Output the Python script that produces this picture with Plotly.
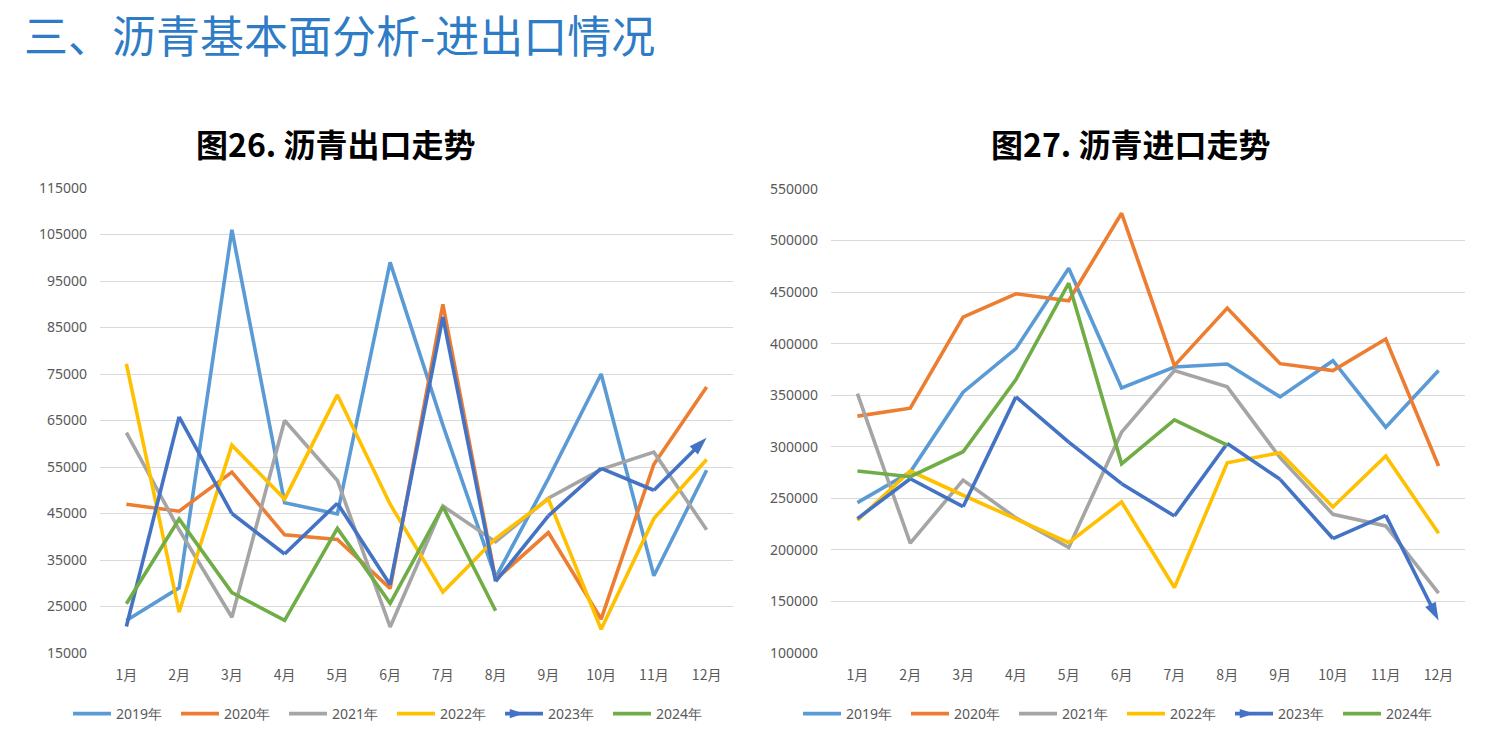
import plotly.graph_objects as go

months = ["1月", "2月", "3月", "4月", "5月", "6月", "7月", "8月", "9月", "10月", "11月", "12月"]
years = ["2019年", "2020年", "2021年", "2022年", "2023年", "2024年"]
colors = ["#5B9BD5", "#ED7D31", "#A5A5A5", "#FFC000", "#4472C4", "#70AD47"]

# 图26 沥青出口 (吨)
export_2019 = [22000, 29000, 106000, 47300, 44900, 99000, 64000, 31200, 52500, 75000, 31600, 54300]
export_2020 = [47000, 45500, 53900, 40400, 39400, 28900, 90000, 30800, 40900, 22300, 55600, 72200]
export_2021 = [62400, 41500, 22700, 65000, 52100, 20600, 46600, 38900, 48300, 54500, 58200, 41500]
export_2022 = [77200, 23800, 59700, 48100, 70500, 47000, 28100, 39600, 48100, 20100, 43900, 56600]
export_2023 = [20700, 65800, 45000, 36300, 47200, 29700, 87300, 30400, 44500, 54700, 50000, 61300]
export_2024 = [25600, 43800, 28000, 22000, 41800, 25700, 46500, 24100]

# 图27 沥青进口 (吨)
import_2019 = [245800, 275500, 352900, 395200, 473200, 357100, 377400, 380300, 348400, 383500, 319000, 373900]
import_2020 = [329700, 337400, 425800, 448400, 441600, 526500, 378700, 434500, 380600, 373900, 404500, 281300]
import_2021 = [351600, 206500, 267700, 231000, 202300, 314200, 373900, 358100, 289400, 234500, 223200, 158100]
import_2022 = [228700, 276500, 253000, 230000, 207100, 246500, 163500, 284500, 294200, 241600, 291000, 216100]
import_2023 = [230300, 269000, 241900, 348400, 304500, 264200, 232900, 303200, 268400, 211000, 233500, 131500]
import_2024 = [276500, 271000, 295200, 365200, 458700, 283500, 326000, 301500]

export_series = [export_2019, export_2020, export_2021, export_2022, export_2023, export_2024]
import_series = [import_2019, import_2020, import_2021, import_2022, import_2023, import_2024]

W, H = 1499, 736
fig = go.Figure()


def add_series(series_list, xa, ya, legend):
    for name, color, vals in zip(years, colors, series_list):
        x = months[:len(vals)]
        if name == "2023年":
            sizes = [0] * (len(vals) - 1) + [19]
            fig.add_trace(go.Scatter(
                x=x, y=vals, name=name, mode="lines+markers",
                line=dict(color=color, width=3.6),
                marker=dict(size=sizes, symbol="arrow", angleref="previous", color=color,
                            opacity=1, line=dict(width=0)),
                xaxis=xa, yaxis=ya, legend=legend, hoverinfo="skip", showlegend=False))
            # legend entry: line with arrow head
            fig.add_trace(go.Scatter(
                x=[None], y=[None], name=name, mode="lines+markers",
                line=dict(color=color, width=3.6),
                marker=dict(size=15, symbol="arrow", angle=90, color=color, line=dict(width=0)),
                xaxis=xa, yaxis=ya, legend=legend, hoverinfo="skip"))
        else:
            fig.add_trace(go.Scatter(
                x=x, y=vals, name=name, mode="lines",
                line=dict(color=color, width=3.6),
                xaxis=xa, yaxis=ya, legend=legend, hoverinfo="skip"))


add_series(export_series, "x", "y", "legend")
add_series(import_series, "x2", "y2", "legend2")


def px(v):
    return v / W


def py(v):
    return (H - v) / H


tick_font = dict(family="Noto Sans, sans-serif", size=14, color="#595959")
xtick_font = dict(family="Noto Sans CJK SC, sans-serif", size=14, color="#595959")

common_x = dict(type="category", categoryorder="array", categoryarray=months,
                range=[-0.5, 11.5], autorange=False,
                showgrid=False, zeroline=False, showline=False, ticks="",
                tickfont=xtick_font, ticklabelstandoff=12, fixedrange=True)
common_y = dict(showgrid=True, gridcolor="#D9D9D9", gridwidth=1.2, zeroline=False,
                showline=False, ticks="", tickfont=tick_font, ticklabelstandoff=12,
                fixedrange=True)

legend_common = dict(orientation="h", yanchor="middle", y=py(714),
                     font=dict(family="Noto Sans, sans-serif", size=14, color="#595959"),
                     entrywidth=55, entrywidthmode="pixels", bgcolor="rgba(0,0,0,0)",
                     itemclick=False, itemdoubleclick=False, itemwidth=38)

fig.update_layout(
    width=W, height=H,
    paper_bgcolor="white", plot_bgcolor="white",
    margin=dict(l=0, r=0, t=0, b=0, pad=0, autoexpand=False),
    showlegend=True,
    xaxis=dict(domain=[px(100), px(733)], anchor="y", **common_x),
    yaxis=dict(domain=[py(653), py(188)], anchor="x", range=[15000, 115000],
               tickvals=[15000, 25000, 35000, 45000, 55000, 65000, 75000, 85000, 95000, 105000, 115000],
               ticktext=["15000", "25000", "35000", "45000", "55000", "65000", "75000", "85000", "95000", "105000", "115000"],
               **common_y),
    xaxis2=dict(domain=[px(831), px(1465)], anchor="y2", **common_x),
    yaxis2=dict(domain=[py(653), py(189)], anchor="x2", range=[100000, 550000],
                tickvals=[100000, 150000, 200000, 250000, 300000, 350000, 400000, 450000, 500000, 550000],
                ticktext=["100000", "150000", "200000", "250000", "300000", "350000", "400000", "450000", "500000", "550000"],
                **common_y),
    legend=dict(x=px(392), xanchor="center", **legend_common),
    legend2=dict(x=px(1122), xanchor="center", **legend_common),
    annotations=[
        dict(text="三、沥青基本面分析-进出口情况", x=px(22), y=py(34), xref="paper", yref="paper",
             xanchor="left", yanchor="middle", showarrow=False,
             font=dict(family="Noto Sans CJK SC, sans-serif", size=44, color="#2E7CC6")),
        dict(text="<b>图26. 沥青出口走势</b>", x=px(335), y=py(143), xref="paper", yref="paper",
             xanchor="center", yanchor="middle", showarrow=False,
             font=dict(family="Noto Sans CJK SC, sans-serif", size=32, color="#000000")),
        dict(text="<b>图27. 沥青进口走势</b>", x=px(1130), y=py(143), xref="paper", yref="paper",
             xanchor="center", yanchor="middle", showarrow=False,
             font=dict(family="Noto Sans CJK SC, sans-serif", size=32, color="#000000")),
    ],
)

fig.write_html("out.html", config={"displayModeBar": False},
               post_script="document.body.style.margin='0';")
